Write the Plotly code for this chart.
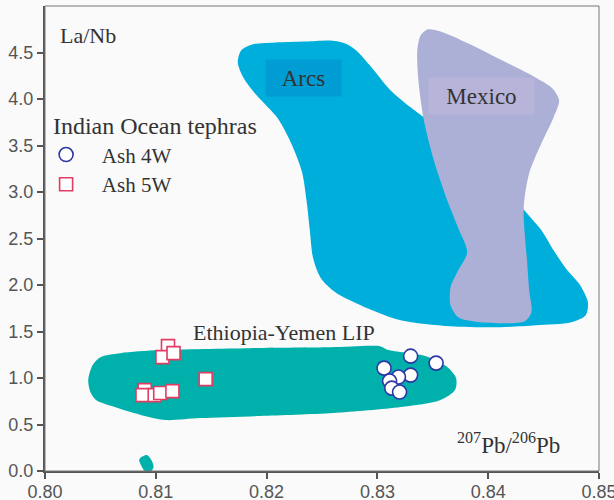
import plotly.graph_objects as go

# ---------------- data ----------------
arcs_x = [0.8174, 0.8177, 0.8187, 0.8208, 0.8235, 0.8258, 0.8271, 0.8281, 0.8294, 0.8312,
          0.8330, 0.8348, 0.8375, 0.8407, 0.8431, 0.8448, 0.8459, 0.8470, 0.8483, 0.8490,
          0.8488, 0.8475, 0.8443, 0.8411, 0.8366, 0.8321, 0.8291, 0.8262, 0.8249, 0.8242,
          0.8239, 0.8236, 0.8232, 0.8223, 0.8210, 0.8191, 0.8179]
arcs_y = [4.393, 4.522, 4.586, 4.608, 4.619, 4.629, 4.597, 4.522, 4.350, 4.092,
          3.910, 3.749, 3.502, 3.179, 2.825, 2.589, 2.374, 2.180, 1.998, 1.815,
          1.676, 1.600, 1.568, 1.547, 1.557, 1.622, 1.751, 1.923, 2.073, 2.288,
          2.589, 2.911, 3.212, 3.502, 3.792, 4.039, 4.232]

mexico_x = [0.8345, 0.8357, 0.8382, 0.8411, 0.8441, 0.8458, 0.8464, 0.8459, 0.8448, 0.8437,
            0.8432, 0.8435, 0.8437, 0.8439, 0.8433, 0.8393, 0.8373, 0.8366, 0.8366, 0.8372,
            0.8381, 0.8373, 0.8363, 0.8351, 0.8342, 0.8337, 0.8336, 0.8339]
mexico_y = [4.748, 4.726, 4.597, 4.425, 4.243, 4.114, 3.985, 3.802, 3.523, 3.201,
            2.825, 2.266, 1.944, 1.708, 1.611, 1.600, 1.654, 1.783, 1.976, 2.137,
            2.352, 2.610, 2.911, 3.340, 3.770, 4.200, 4.522, 4.683]

lip_x = [0.8039, 0.8043, 0.8050, 0.8068, 0.8104, 0.8185, 0.8258, 0.8303, 0.8309, 0.8344,
         0.8362, 0.8371, 0.8370, 0.8357, 0.8321, 0.8260, 0.8194, 0.8140, 0.8109, 0.8090,
         0.8063, 0.8046, 0.8041]
lip_y = [0.977, 1.139, 1.224, 1.267, 1.300, 1.321, 1.330, 1.340, 1.305, 1.235,
         1.128, 0.999, 0.870, 0.763, 0.687, 0.623, 0.591, 0.569, 0.548, 0.591,
         0.687, 0.763, 0.849]

blob_x = [0.8087, 0.8092, 0.8096, 0.8098, 0.8095, 0.8090, 0.8087, 0.8085]
blob_y = [0.150, 0.172, 0.118, 0.043, -0.011, 0.000, 0.054, 0.118]

ash4w_x = [0.8306, 0.8330, 0.8353, 0.8330, 0.8319, 0.8311, 0.8313, 0.8320]
ash4w_y = [1.106, 1.235, 1.160, 1.031, 1.010, 0.967, 0.891, 0.849]

ash5w_x = [0.8111, 0.8106, 0.8116, 0.8090, 0.8088, 0.8099, 0.8104, 0.8115, 0.8145]
ash5w_y = [1.343, 1.224, 1.267, 0.870, 0.816, 0.816, 0.838, 0.859, 0.988]

x_ticks = [0.80, 0.81, 0.82, 0.83, 0.84, 0.85]
y_ticks = [0.0, 0.5, 1.0, 1.5, 2.0, 2.5, 3.0, 3.5, 4.0, 4.5]

# label anchor positions (data coords)
arcs_label = (0.8233, 4.231)
mexico_label = (0.8394, 4.036)
lip_label = (0.8216, 1.493)
pb_label = (0.8418, 0.30)
lanb_label = (0.8012, 4.68)

SERIF = "Liberation Serif"
SANS = "Liberation Sans"
PAD = "\u00a0\u00a0\u00a0"

fig = go.Figure()

def region(xs, ys, color):
    fig.add_trace(go.Scatter(x=xs + xs[:1], y=ys + ys[:1], mode="lines", fill="toself",
                             fillcolor=color, line=dict(color=color, width=0, shape="spline",
                                                        smoothing=0.8),
                             hoverinfo="skip", showlegend=False))

region(arcs_x, arcs_y, "rgb(0,174,220)")
region(mexico_x, mexico_y, "rgb(172,175,214)")
region(lip_x, lip_y, "rgb(0,176,170)")
region(blob_x, blob_y, "rgb(0,176,170)")

fig.add_trace(go.Scatter(x=ash4w_x, y=ash4w_y, mode="markers", name=PAD + "Ash 4W",
                         legend="legend",
                         marker=dict(symbol="circle", size=14, color="white",
                                     line=dict(color="rgb(45,55,165)", width=1.6))))
fig.add_trace(go.Scatter(x=ash5w_x, y=ash5w_y, mode="markers", name=PAD + "Ash 5W",
                         legend="legend2",
                         marker=dict(symbol="square", size=13, color="white",
                                     line=dict(color="rgb(225,60,100)", width=1.6))))

ann = []
ann.append(dict(x=arcs_label[0], y=arcs_label[1], text="Arcs", showarrow=False,
                font=dict(family=SERIF, size=23, color="#333"),
                bgcolor="rgb(0,156,212)", width=71, height=32, borderpad=2))
ann.append(dict(x=mexico_label[0], y=mexico_label[1], text="Mexico", showarrow=False,
                font=dict(family=SERIF, size=23, color="#333"),
                bgcolor="rgb(184,179,216)", width=101, height=32, borderpad=2))
ann.append(dict(x=lip_label[0], y=lip_label[1], text="Ethiopia-Yemen LIP", showarrow=False,
                font=dict(family=SERIF, size=22, color="#333")))
ann.append(dict(x=pb_label[0], y=pb_label[1], text="<sup>207</sup>Pb/<sup>206</sup>Pb",
                showarrow=False, font=dict(family=SERIF, size=23, color="#333")))
ann.append(dict(x=lanb_label[0], y=lanb_label[1], text="La/Nb", showarrow=False,
                xanchor="left", font=dict(family=SERIF, size=22, color="#333")))

fig.update_layout(
    width=614, height=500,
    margin=dict(l=45, r=15, t=6, b=29),
    paper_bgcolor="#fafafa", plot_bgcolor="#fafafa",
    annotations=ann,
    showlegend=True,
    legend=dict(x=0.002, y=0.791, xanchor="left", yanchor="top",
                bgcolor="rgba(0,0,0,0)",
                title=dict(text="\u2009Indian Ocean tephras",
                           font=dict(family=SERIF, size=24, color="#333")),
                font=dict(family=SERIF, size=21, color="#333"),
                itemwidth=30, tracegroupgap=0),
    legend2=dict(x=0.002, y=0.660, xanchor="left", yanchor="top",
                 bgcolor="rgba(0,0,0,0)",
                 font=dict(family=SERIF, size=21, color="#333"),
                 itemwidth=30, tracegroupgap=0),
    shapes=[dict(type="rect", xref="paper", yref="paper", x0=0, y0=0, x1=1, y1=1,
                 line=dict(color="#777", width=1), layer="above")],
)
fig.update_xaxes(range=[0.80, 0.85], tickvals=x_ticks, tickformat=".2f", automargin=False,
                 showgrid=False, zeroline=False, showline=True, linecolor="#555", linewidth=2,
                 ticks="outside", ticklen=6, tickcolor="#555", tickwidth=1.5,
                 ticklabelstandoff=-3, ticklabeloverflow="allow",
                 tickfont=dict(family=SANS, size=18, color="#555"))
fig.update_yaxes(range=[0, 5.0], tickvals=y_ticks, tickformat=".1f", automargin=False,
                 showgrid=False, zeroline=False, showline=True, linecolor="#555", linewidth=2,
                 ticks="outside", ticklen=6, tickcolor="#555", tickwidth=1.5,
                 tickfont=dict(family=SANS, size=18, color="#555"))

fig.write_html("out.html", config={"displayModeBar": False},
               post_script="document.body.style.margin='0px';")
